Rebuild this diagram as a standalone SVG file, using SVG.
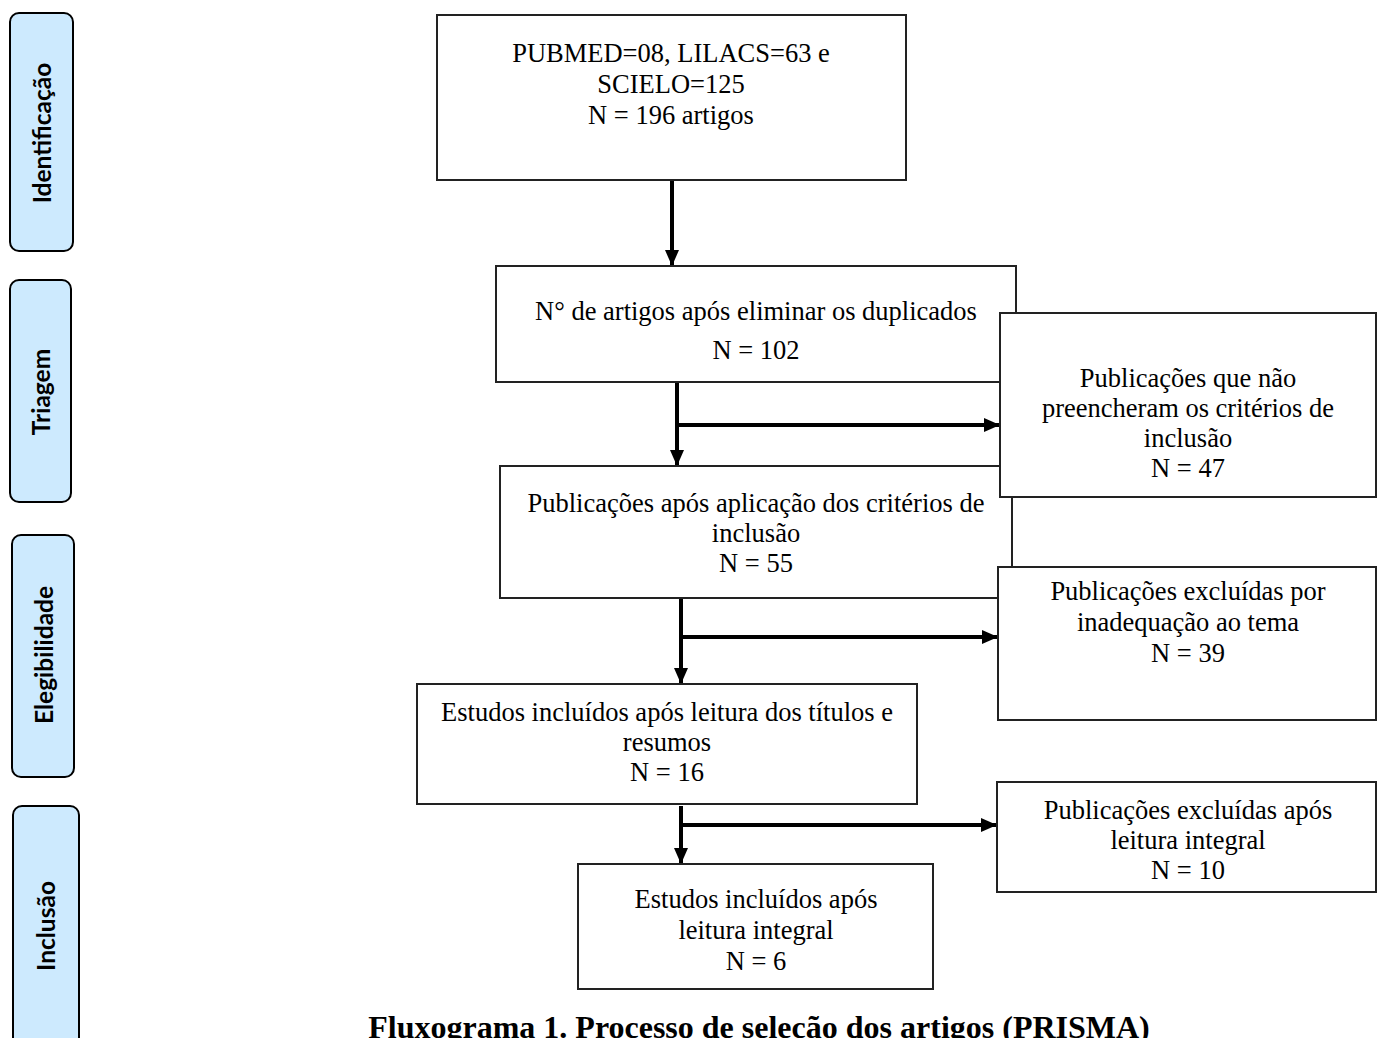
<svg xmlns="http://www.w3.org/2000/svg" width="1377" height="1038" viewBox="0 0 1377 1038">
<defs>
<marker id="ah" markerUnits="userSpaceOnUse" markerWidth="16" markerHeight="14" refX="16" refY="7" orient="auto">
<path d="M0,0 L16,7 L0,14 z" fill="#000"/>
</marker>
<style>
.box{fill:#fff;stroke:#222;stroke-width:2}
.stage{fill:#cdeafe;stroke:#000;stroke-width:2}
.t{font-family:"Liberation Serif","Times New Roman",serif;font-size:26.5px;fill:#000;text-anchor:middle}
.st{font-family:Lato,"Liberation Sans",sans-serif;font-weight:bold;font-size:24.5px;fill:#000;text-anchor:middle;dominant-baseline:central}
.cap{font-family:"Liberation Serif","Times New Roman",serif;font-weight:bold;font-size:32px;fill:#000;text-anchor:middle}
.ar{stroke:#000;stroke-width:4;fill:none}
</style>
</defs>
<rect width="1377" height="1038" fill="#fff"/>
<g id="stage-identificacao"><rect class="stage" x="10" y="13" width="63" height="238" rx="9"/><text class="st" transform="translate(41,133) rotate(-90)">Identificação</text></g>
<g id="stage-triagem"><rect class="stage" x="10" y="280" width="61" height="222" rx="9"/><text class="st" transform="translate(40,392) rotate(-90)">Triagem</text></g>
<g id="stage-elegibilidade"><rect class="stage" x="12" y="535" width="62" height="242" rx="9"/><text class="st" transform="translate(43,655) rotate(-90)">Elegibilidade</text></g>
<g id="stage-inclusao"><rect class="stage" x="13" y="806" width="66" height="260" rx="9"/><text class="st" transform="translate(45,926) rotate(-90)">Inclusão</text></g>

<g id="connectors">
<line class="ar" x1="672" y1="180" x2="672" y2="266" marker-end="url(#ah)"/>
<line class="ar" x1="677" y1="382" x2="677" y2="466" marker-end="url(#ah)"/>
<line class="ar" x1="677" y1="425" x2="1000" y2="425" marker-end="url(#ah)"/>
<line class="ar" x1="681" y1="598" x2="681" y2="684" marker-end="url(#ah)"/>
<line class="ar" x1="681" y1="637" x2="998" y2="637" marker-end="url(#ah)"/>
<line class="ar" x1="681" y1="806" x2="681" y2="864" marker-end="url(#ah)"/>
<line class="ar" x1="681" y1="825" x2="997" y2="825" marker-end="url(#ah)"/>
</g>

<g id="box1"><rect class="box" x="437" y="15" width="469" height="165"/>
<text class="t"><tspan x="671" y="62">PUBMED=08, LILACS=63 e</tspan><tspan x="671" y="93">SCIELO=125</tspan><tspan x="671" y="124">N = 196 artigos</tspan></text></g>
<g id="box2"><rect class="box" x="496" y="266" width="520" height="116"/>
<text class="t"><tspan x="756" y="320">N° de artigos após eliminar os duplicados</tspan><tspan x="756" y="359">N = 102</tspan></text></g>
<g id="box3"><rect class="box" x="500" y="466" width="512" height="132"/>
<text class="t"><tspan x="756" y="512">Publicações após aplicação dos critérios de</tspan><tspan x="756" y="542">inclusão</tspan><tspan x="756" y="572">N = 55</tspan></text></g>
<g id="box-excl1"><rect class="box" x="1000" y="313" width="376" height="184"/>
<text class="t"><tspan x="1188" y="387">Publicações que não</tspan><tspan x="1188" y="417">preencheram os critérios de</tspan><tspan x="1188" y="447">inclusão</tspan><tspan x="1188" y="477">N = 47</tspan></text></g>
<g id="box-excl2"><rect class="box" x="998" y="567" width="378" height="153"/>
<text class="t"><tspan x="1188" y="600">Publicações excluídas por</tspan><tspan x="1188" y="631">inadequação ao tema</tspan><tspan x="1188" y="662">N = 39</tspan></text></g>
<g id="box4"><rect class="box" x="417" y="684" width="500" height="120"/>
<text class="t"><tspan x="667" y="721">Estudos incluídos após leitura dos títulos e</tspan><tspan x="667" y="751">resumos</tspan><tspan x="667" y="781">N = 16</tspan></text></g>
<g id="box-excl3"><rect class="box" x="997" y="782" width="379" height="110"/>
<text class="t"><tspan x="1188" y="819">Publicações excluídas após</tspan><tspan x="1188" y="849">leitura integral</tspan><tspan x="1188" y="879">N = 10</tspan></text></g>
<g id="box5"><rect class="box" x="578" y="864" width="355" height="125"/>
<text class="t"><tspan x="756" y="908">Estudos incluídos após</tspan><tspan x="756" y="939">leitura integral</tspan><tspan x="756" y="970">N = 6</tspan></text></g>

<text class="cap" x="759" y="1038">Fluxograma 1. Processo de seleção dos artigos (PRISMA)</text>
</svg>
